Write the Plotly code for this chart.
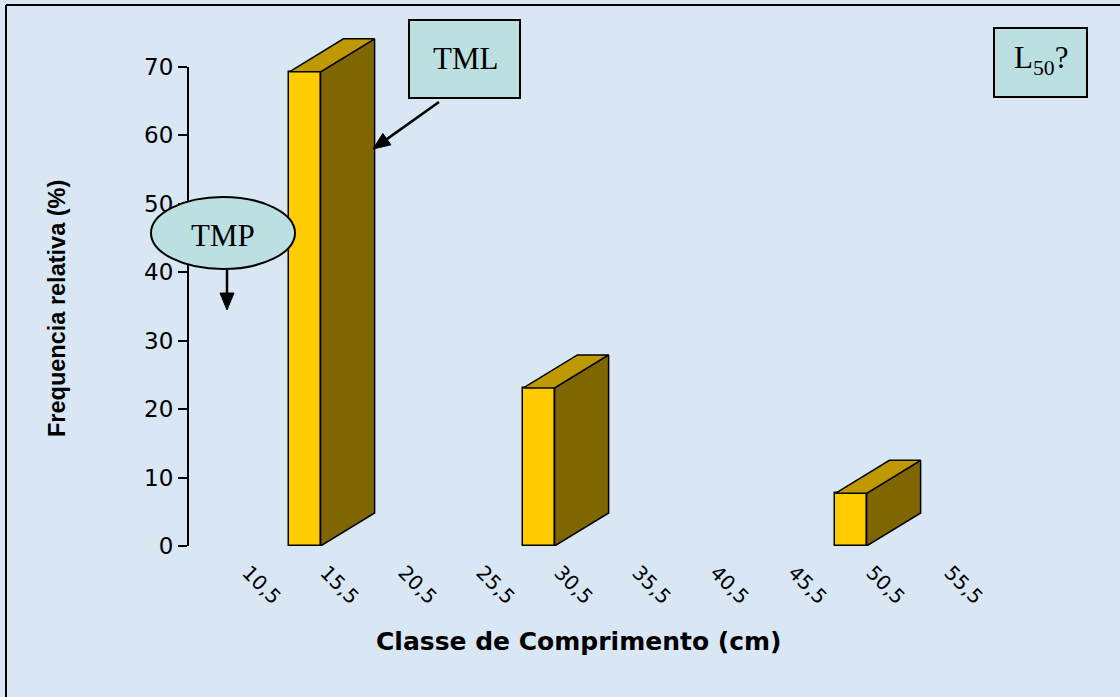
import math
import plotly.graph_objects as go

# ---------------- data ----------------
categories = ["10,5", "15,5", "20,5", "25,5", "30,5", "35,5", "40,5", "45,5", "50,5", "55,5"]
freq = [0, 69.3, 0, 0, 23.1, 0, 0, 0, 7.7, 0]
y_ticks = [0, 10, 20, 30, 40, 50, 60, 70]
x_title = "Classe de Comprimento (cm)"
y_title = "Frequencia relativa (%)"

# ---------------- layout geometry ----------------
W, H = 1120, 697
L, R, T, B = 188, 90, 26, 151
PPX = 78.0      # pixels per category
PPY = 6.843     # pixels per % unit
PW, PH = W - L - R, H - T - B
x_range = [-0.5, -0.5 + PW / PPX]
y_range = [0, PH / PPY]


def px(xp):
    return (xp - L) / PW


def py(yp):
    return (H - B - yp) / PH


bar_w = 0.40
dx = 54 / PPX
dy = 33 / PPY

FRONT = "#FFCC00"
SIDE = "#806600"
TOP = "#BF9900"
BG = "#D9E7F5"
BOX = "#BCE0E2"

idx = [i for i, v in enumerate(freq) if v > 0]
vals = [freq[i] for i in idx]

fig = go.Figure()

# front faces
fig.add_trace(go.Bar(
    x=idx, y=vals, width=bar_w,
    marker=dict(color=FRONT, line=dict(color="black", width=1.5)),
    hoverinfo="skip", showlegend=False))

# side and top faces
sx, sy = [], []
tx, ty = [], []
for i, v in zip(idx, vals):
    xr = i + bar_w / 2
    xl = i - bar_w / 2
    sx += [xr, xr + dx, xr + dx, xr, xr, None]
    sy += [0, dy, v + dy, v, 0, None]
    tx += [xl, xr, xr + dx, xl + dx, xl, None]
    ty += [v, v, v + dy, v + dy, v, None]

fig.add_trace(go.Scatter(
    x=sx, y=sy, mode="lines", fill="toself", fillcolor=SIDE,
    line=dict(color="black", width=1.5), hoverinfo="skip", showlegend=False))
fig.add_trace(go.Scatter(
    x=tx, y=ty, mode="lines", fill="toself", fillcolor=TOP,
    line=dict(color="black", width=1.5), hoverinfo="skip", showlegend=False))

shapes = []
# outer border (top and left)
shapes.append(dict(type="line", xref="paper", yref="paper",
                   x0=px(6), x1=px(1125), y0=py(5), y1=py(5),
                   line=dict(color="black", width=2)))
shapes.append(dict(type="line", xref="paper", yref="paper",
                   x0=px(6), x1=px(6), y0=py(5), y1=py(700),
                   line=dict(color="black", width=2)))
# y axis line from 0 to 70
shapes.append(dict(type="line", xref="paper", yref="y",
                   x0=0, x1=0, y0=y_ticks[0], y1=y_ticks[-1],
                   line=dict(color="black", width=2), layer="above"))
# TML box
shapes.append(dict(type="rect", xref="paper", yref="paper",
                   x0=px(409), x1=px(520), y0=py(20), y1=py(98),
                   fillcolor=BOX, line=dict(color="black", width=2), layer="above"))
# L50 box
shapes.append(dict(type="rect", xref="paper", yref="paper",
                   x0=px(994), x1=px(1087), y0=py(28), y1=py(97),
                   fillcolor=BOX, line=dict(color="black", width=2), layer="above"))
# TMP ellipse
shapes.append(dict(type="circle", xref="paper", yref="paper",
                   x0=px(151), x1=px(295), y0=py(197), y1=py(269),
                   fillcolor=BOX, line=dict(color="black", width=2), layer="above"))


def arrow(x0, y0, x1, y1, head_len=17, half_w=7):
    """Callout arrow from pixel (x0,y0) to tip (x1,y1)."""
    d = math.hypot(x1 - x0, y1 - y0)
    ux, uy = (x1 - x0) / d, (y1 - y0) / d
    bx, by = x1 - ux * head_len, y1 - uy * head_len
    nx, ny = -uy, ux
    out = [dict(type="line", xref="paper", yref="paper",
                x0=px(x0), y0=py(y0), x1=px(bx), y1=py(by),
                line=dict(color="black", width=2.5), layer="above")]
    pts = [(x1, y1), (bx + nx * half_w, by + ny * half_w), (bx - nx * half_w, by - ny * half_w)]
    path = "M " + " L ".join("%f,%f" % (px(a), py(b)) for a, b in pts) + " Z"
    out.append(dict(type="path", xref="paper", yref="paper", path=path,
                    fillcolor="black", line=dict(color="black", width=1), layer="above"))
    return out


shapes += arrow(439, 102, 373, 149)
shapes += arrow(227, 270, 227, 310)

serif = dict(family="Liberation Serif, Times New Roman, serif", size=31, color="black")

annotations = [
    dict(text="TML", xref="paper", yref="paper", x=px(465), y=py(58),
         showarrow=False, font=serif, xanchor="center", yanchor="middle"),
    dict(text="L<sub>50</sub>?", xref="paper", yref="paper", x=px(1041), y=py(60),
         showarrow=False, font=serif, xanchor="center", yanchor="middle"),
    dict(text="TMP", xref="paper", yref="paper", x=px(223), y=py(235),
         showarrow=False, font=serif, xanchor="center", yanchor="middle"),
    # axis titles
    dict(text="<b>" + x_title + "</b>", xref="paper", yref="paper",
         x=px(578), y=py(641), showarrow=False, xanchor="center", yanchor="middle",
         font=dict(family="DejaVu Sans", size=25, color="black")),
    dict(text="<b>" + y_title + "</b>", xref="paper", yref="paper",
         x=px(57), y=py(309), showarrow=False, xanchor="center", yanchor="middle",
         textangle=-90,
         font=dict(family="Liberation Sans, Arial", size=23.5, color="black")),
]

fig.update_layout(
    width=W, height=H,
    margin=dict(l=L, r=R, t=T, b=B, pad=0),
    paper_bgcolor=BG, plot_bgcolor=BG,
    showlegend=False, bargap=0,
    shapes=shapes, annotations=annotations,
    hovermode=False,
    xaxis=dict(type="linear", range=x_range,
               tickmode="array", tickvals=[i + 0.27 for i in range(len(categories))],
               ticktext=categories, tickangle=45, ticklabelstandoff=10,
               tickfont=dict(family="DejaVu Sans", size=20, color="black"),
               showline=False, showgrid=False, zeroline=False, ticks=""),
    yaxis=dict(range=y_range, tickmode="array", tickvals=y_ticks,
               ticks="outside", ticklen=9, tickwidth=2, tickcolor="black",
               tickfont=dict(family="DejaVu Sans", size=23, color="black"),
               showline=False, showgrid=False, zeroline=False),
)

fig.write_html(
    "out.html", config={"displayModeBar": False},
    post_script=("document.body.style.margin='0';"
                 "document.body.style.overflow='hidden';"
                 "document.documentElement.style.overflow='hidden';"
                 "document.body.style.background='%s';" % BG))
